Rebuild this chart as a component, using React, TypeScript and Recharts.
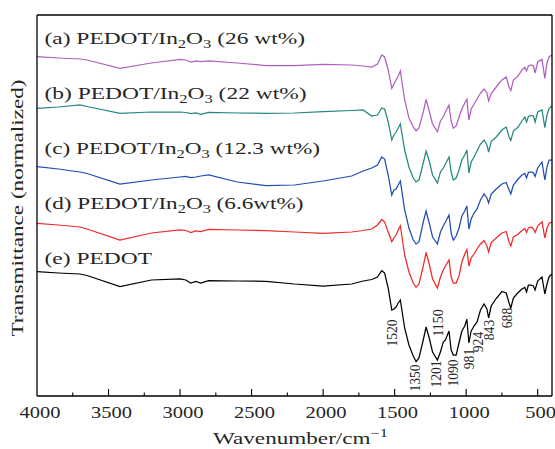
import React from "react";
import { LineChart, Line, XAxis, YAxis } from "recharts";

// FTIR spectra, wavenumber in cm^-1 (x axis reversed)
const wavenumber = [
  4000, 3850, 3700, 3650, 3420, 3200, 3000, 2960, 2925, 2890, 2855, 2800, 2600,
  2400, 2200, 2000, 1800, 1720, 1660, 1620, 1590, 1570, 1545, 1520, 1505, 1490,
  1475, 1460, 1430, 1400, 1370, 1350, 1330, 1300, 1280, 1260, 1235, 1201, 1180,
  1160, 1145, 1120, 1105, 1090, 1070, 1050, 1030, 1010, 995, 981, 965, 945, 924,
  900, 875, 855, 843, 825, 790, 750, 720, 700, 688, 670, 640, 610, 590, 578, 565,
  545, 530, 518, 500, 470, 450, 435, 420, 400,
];

// transmittance, stacked, arbitrary units
const inoxide26 = [
  339.3, 338, 337, 336, 327.7, 333, 336.7, 336, 334, 335, 334.5, 335, 333, 330.5,
  330.5, 331.5, 331, 330, 329, 332, 341, 339, 326, 307.7, 312, 316, 320, 325, 296,
  278, 269, 265.3, 268, 284, 296.5, 286, 272, 264.3, 275, 279, 284, 291, 275,
  267.7, 270, 279, 287, 293, 296.7, 276, 287, 292, 297, 303, 307, 303, 295, 302.5,
  309, 316, 319, 309, 305.3, 316, 319.5, 326, 328.7, 325, 330, 331, 330, 323, 334,
  336.7, 317.7, 333, 339.3, 341,
];
const inoxide22 = [
  287.7, 289, 291, 289.5, 282.7, 284, 284, 283.5, 282.5, 283, 281.7, 283.5, 283,
  282.7, 283, 284.3, 285.5, 286, 280, 281, 288, 287, 274, 256, 261, 264, 268, 272,
  246, 229, 218, 214, 216, 233, 245, 236, 221, 213, 224, 228, 232, 239, 224, 216,
  218, 226, 236, 241, 246, 223, 234, 239, 245, 252, 256, 251, 244, 254.5, 259, 266,
  269, 259, 255.5, 265, 268.5, 275, 279, 274, 279.5, 280.5, 280, 274, 284, 286,
  268.3, 281, 287.7, 290,
];
const inoxide123 = [
  229.3, 227, 224, 222.5, 212, 216, 219, 219.5, 218.5, 219, 220, 221, 214, 210.5,
  211, 215, 220, 225, 228, 231, 239, 237, 221, 201, 206, 207, 211, 215, 186, 168,
  156, 152, 154, 174, 185, 174, 159, 152, 164, 170, 174, 181, 163, 156, 160, 168,
  180, 185, 190, 167, 177, 183, 187, 196, 202, 198, 193, 202, 207, 212, 213.5, 206,
  202, 211, 216.5, 221, 222.5, 218, 223.5, 224, 223, 219.5, 228, 234, 216, 229,
  236, 236,
];
const inoxide66 = [
  172.7, 171, 169, 167, 156, 163, 166, 165.5, 163.5, 165, 164.5, 166.5, 166, 165.3,
  164, 162.7, 164, 165.5, 167, 171, 176.5, 174, 164, 154.3, 158, 161, 166, 170,
  141, 124, 113, 108.7, 112, 130, 143.5, 133, 117, 108, 119, 126, 130, 136, 119,
  113, 113, 120, 134, 142, 146.5, 130, 138, 142, 147, 152, 155.5, 150, 144, 153.5,
  158, 163, 164.5, 154, 150, 159, 161.5, 165.5, 167.5, 163.5, 168, 169, 167, 163.5,
  170, 174.3, 158, 168, 172.7, 174,
];
const pedot = [
  124.3, 123, 122, 120.5, 109.3, 116, 117, 116, 113, 114.5, 113, 115.3, 115, 114.7,
  112, 110, 112, 115, 116.5, 119, 125.3, 123, 108, 86, 87, 89, 93, 96, 68, 51, 40,
  34.3, 38, 56, 69, 59, 44, 36, 44, 54, 56, 65, 46, 41, 41, 53, 65, 70, 76.7, 53,
  65, 70, 74, 86, 92, 87, 78, 90, 97.5, 104.5, 103, 93, 88, 98, 103, 107, 108.5,
  104, 111, 111, 110, 106, 115, 119, 102, 112, 119.3, 122,
];

const sampleCodes = ["(a)", "(b)", "(c)", "(d)", "(e)"];
const sampleLoads = ["(26 wt%)", "(22 wt%)", "(12.3 wt%)", "(6.6wt%)", ""];
const peakLabels = ["1520", "1350", "1201", "1150", "1090", "981", "924", "843", "688"];
const xTicks = [
  4000, 3750, 3500, 3250, 3000, 2750, 2500, 2250, 2000, 1750, 1500, 1250, 1000, 750, 500,
];

const data = wavenumber.map((w, i) => ({
  w,
  a: inoxide26[i],
  b: inoxide22[i],
  c: inoxide123[i],
  d: inoxide66[i],
  e: pedot[i],
}));

const SERIF = "'Liberation Serif', 'DejaVu Serif', serif";
const INK = "#262626";
const W = 555;
const H = 449;

const series = [
  { key: "a", color: "#b060bf" },
  { key: "b", color: "#25877f" },
  { key: "c", color: "#1f4cb5" },
  { key: "d", color: "#ef2a2a" },
  { key: "e", color: "#000000" },
];

// label layout
const labelBase = [44, 99, 154, 209, 264];
const labelWidth = [260.5, 262, 275.5, 259, 107.5];
const peakPos = [
  [393, 333], [416, 378], [437, 374], [439, 323], [454, 373],
  [470, 359], [479, 342], [490, 330], [508, 318],
];

function WaveTick(props: any) {
  const { x, y, payload } = props;
  const v = payload.value as number;
  const major = v % 500 === 0;
  const txt = String(v);
  return (
    <g>
      {v !== 4000 && (
        <line x1={x} x2={x} y1={y} y2={y - (major ? 7 : 3.5)} stroke="#000" strokeWidth={1.1} />
      )}
      {major && (
        <text
          x={x + 3}
          y={y + 22}
          textAnchor="middle"
          fontFamily={SERIF}
          fontSize={17}
          fill={INK}
          textLength={txt.length * 10.25}
          lengthAdjust="spacingAndGlyphs"
        >
          {txt}
        </text>
      )}
    </g>
  );
}

function Overlay() {
  return (
    <svg
      width={W}
      height={H}
      style={{ position: "absolute", left: 0, top: 0, pointerEvents: "none" }}
    >
      {sampleCodes.map((code, i) => (
        <text
          key={code}
          x={44.5}
          y={labelBase[i]}
          fontFamily={SERIF}
          fontSize={17}
          fill={INK}
          textLength={labelWidth[i]}
          lengthAdjust="spacingAndGlyphs"
        >
          {sampleLoads[i] ? (
            <>
              {code} PEDOT/In
              <tspan dy={3.5} fontSize={12}>2</tspan>
              <tspan dy={-3.5}>O</tspan>
              <tspan dy={3.5} fontSize={12}>3</tspan>
              <tspan dy={-3.5}> {sampleLoads[i]}</tspan>
            </>
          ) : (
            `${code} PEDOT`
          )}
        </text>
      ))}
      {peakLabels.map((p, i) => {
        const [cx, cy] = peakPos[i];
        return (
          <text
            key={p}
            x={cx + 4}
            y={cy}
            transform={`rotate(-90, ${cx + 4}, ${cy})`}
            textAnchor="middle"
            fontFamily={SERIF}
            fontSize={14}
            fill={INK}
            textLength={p.length * 6.8}
            lengthAdjust="spacingAndGlyphs"
          >
            {p}
          </text>
        );
      })}
      <text
        x={23}
        y={208}
        transform="rotate(-90, 23, 208)"
        textAnchor="middle"
        fontFamily={SERIF}
        fontSize={17}
        fill={INK}
        textLength={257}
        lengthAdjust="spacingAndGlyphs"
      >
        Transmittance (normalized)
      </text>
      <text
        x={213}
        y={444}
        fontFamily={SERIF}
        fontSize={17}
        fill={INK}
        textLength={175}
        lengthAdjust="spacingAndGlyphs"
      >
        Wavenumber/cm
        <tspan dy={-7} fontSize={12}>−1</tspan>
      </text>
    </svg>
  );
}

export default function App() {
  const leftTicks = Array.from({ length: 11 }, (_, k) => ((k + 1) * 381) / 12);
  const nine = [1, 2, 3, 4, 5, 6, 7, 8, 9];
  const frame = { stroke: "#000", strokeWidth: 1.3 };
  return (
    <div style={{ position: "absolute", left: 0, top: 0, width: W, height: H, background: "#fff" }}>
      <LineChart width={W} height={H} data={data} margin={{ top: 14, right: 0, bottom: 0, left: 0 }}>
        <XAxis
          xAxisId="main"
          dataKey="w"
          type="number"
          domain={[400, 4000]}
          reversed
          allowDataOverflow
          ticks={xTicks}
          interval={0}
          tickLine={false}
          tickSize={0}
          tickMargin={0}
          tick={(p: any) => <WaveTick {...p} />}
          axisLine={frame}
          height={53}
        />
        <XAxis
          xAxisId="top"
          orientation="top"
          type="number"
          domain={[0, 10]}
          allowDataOverflow
          ticks={nine}
          interval={0}
          tickSize={-2.5}
          tick={false}
          tickLine={{ stroke: "#000", strokeWidth: 1 }}
          axisLine={frame}
          height={1}
        />
        <YAxis
          yAxisId="left"
          type="number"
          domain={[0, 381]}
          allowDataOverflow
          ticks={leftTicks}
          interval={0}
          tickSize={-4}
          tick={false}
          tickLine={{ stroke: "#000", strokeWidth: 1 }}
          axisLine={frame}
          width={37}
        />
        <YAxis
          yAxisId="right"
          orientation="right"
          type="number"
          domain={[0, 10]}
          allowDataOverflow
          ticks={nine}
          interval={0}
          tickSize={-4}
          tick={false}
          tickLine={{ stroke: "#000", strokeWidth: 1 }}
          axisLine={frame}
          width={3}
        />
        {series.map((s) => (
          <Line
            key={s.key}
            xAxisId="main"
            yAxisId="left"
            type="linear"
            dataKey={s.key}
            stroke={s.color}
            strokeWidth={1.25}
            dot={false}
            activeDot={false}
            isAnimationActive={false}
          />
        ))}
      </LineChart>
      <Overlay />
    </div>
  );
}
